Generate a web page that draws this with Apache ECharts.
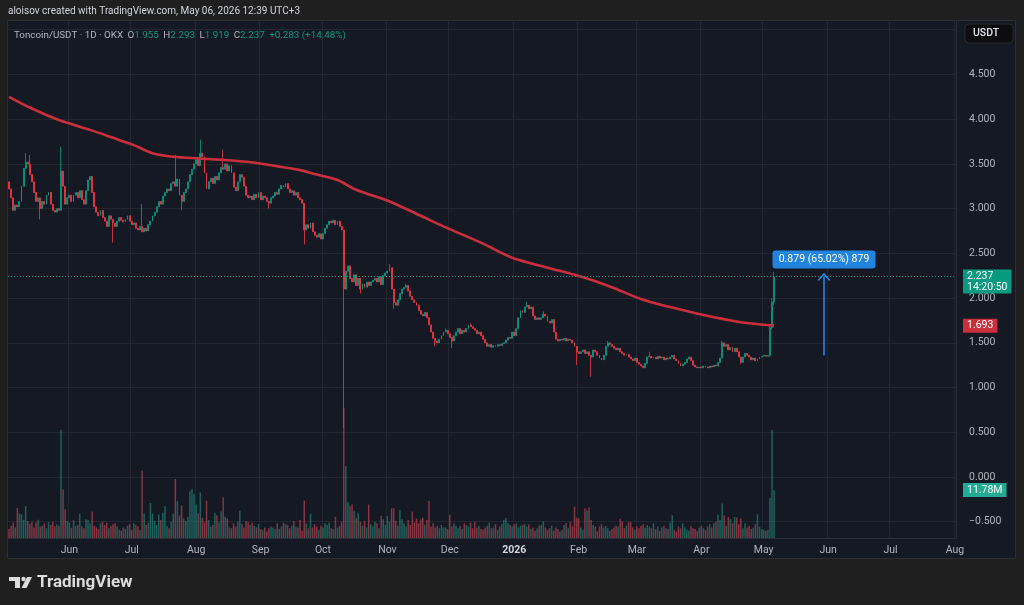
<!DOCTYPE html>
<html>
<head>
<meta charset="utf-8">
<title>Toncoin/USDT 1D</title>
<script src="https://cdn.jsdelivr.net/npm/echarts@6.0.0/dist/echarts.min.js"></script>
<style>
html, body { margin: 0; padding: 0; background: #1f1f1f; }
#chart { width: 1024px; height: 605px; }
</style>
</head>
<body>
<div id="chart"></div>
<script>
// daily closes, 2025-05-03 .. 2026-05-06
var closes = [
    3.22,3.12,2.98,3.04,3.02,3.08, 3.25,3.45,3.52,3.50, 3.38,3.30,3.18,3.08,
    3.12,3.00,3.08,3.05,3.15,3.18,3.05, 2.98,2.96,3.00,2.98, 3.42,3.25,3.05,
    3.12,3.15,3.08,3.15, 3.18,3.12,3.20,3.10,3.05, 3.20,3.32,3.36,3.18,3.02,
    2.96,2.92,2.98,2.90,2.86,2.80,2.92, 2.88,2.84,2.80,2.86,2.90,2.87,2.85,
    2.88,2.92,2.86,2.82,2.84, 2.78,2.76,2.80,2.74,2.78,2.75, 2.82,2.86,2.92,2.96,3.02,
    3.08,3.05,3.14,3.18,3.22, 3.20,3.28,3.30,3.25,3.33, 3.15,3.08,3.18,
    3.22,3.30,3.38,3.44,3.50, 3.55,3.48,3.62,3.58, 3.40,3.22, 3.30,3.34,3.28,3.36,3.32,
    3.40,3.46,3.44, 3.50,3.42,3.48,3.40, 3.24,3.20, 3.30,3.38,3.35, 3.25,3.15,3.12,
    3.14,3.10,3.16,3.12,3.18,3.10,3.14,3.12,3.08, 3.06,3.12,
    3.14,3.18,3.16,3.22,3.26,3.24,3.28, 3.22,3.18,3.20,3.15,3.18, 3.12,3.10,3.06,
    2.76, 2.82,2.78,2.84,2.74, 2.70,2.68,2.72,2.66,2.72, 2.78,2.82,2.86,2.84,2.87,2.82,2.86,
    2.80,2.76, 2.10, 2.30,2.36,2.22,2.18,2.26, 2.14,2.22,2.10,2.16,2.12,2.18,
    2.14,2.18,2.20,2.22,2.18,2.24,2.15,2.25,2.28,2.30,
    2.34,2.10,1.95, 1.92,1.98, 2.05,2.10,2.12,2.14,2.08, 2.02,1.98,1.95,1.92,
    1.86,1.82,1.80,1.84,1.78, 1.70,1.62,1.55, 1.52,1.50,1.54, 1.58,1.62,1.64,1.60,
    1.56,1.52,1.58, 1.62,1.66,1.60,1.64,1.62, 1.66,1.70,1.68,1.66, 1.64,1.60,1.62,1.58,
    1.54,1.50,1.46,1.48,1.45, 1.47,1.46,1.48,1.47,1.49, 1.50,1.53,1.56,1.55,
    1.62,1.58,1.66, 1.78,1.86,1.84,1.90, 1.92,1.88,1.90, 1.80,1.76,1.78,
    1.76,1.78,1.82,1.80, 1.74,1.72,1.76, 1.62,1.54, 1.52,1.54,1.53,1.55,1.52,1.54,1.53,
    1.50,1.46,1.40,1.38, 1.40,1.42,1.38,1.40,1.36, 1.34, 1.42,1.40, 1.36,1.33,1.31,1.36,
    1.46,1.50,1.48, 1.46,1.44,1.42,1.44, 1.40,1.38,1.36,1.37,1.34, 1.32,1.30,1.33,1.28,1.26,
    1.24,1.22,1.27, 1.34,1.35,1.33, 1.34,1.32,1.35,1.33,1.34,1.31,1.33,1.32,1.34,1.36,
    1.32,1.30, 1.27,1.24,1.26,1.28, 1.32,1.34,1.30, 1.25,1.23,
    1.22,1.23,1.22,1.24,1.23,1.22,1.24,1.23,1.25,1.24, 1.28,1.33, 1.50,
    1.46,1.48,1.42,1.45,1.40,1.44,1.40, 1.34,1.28, 1.34,1.38,1.36, 1.34,1.31,1.33,1.30,1.32,
    1.34,1.35,1.36, 1.35,1.36, 1.67,1.955,2.237
];
var firstOpen = 3.30;

// visible wicks: [index, high, low]
var wicks = [
    [8, 3.62, null], [10, 3.60, null], [15, null, 2.88], [25, 3.69, null], [50, null, 2.62],
    [64, 3.05, null], [80, 3.60, null], [83, null, 2.98], [92, 3.77, null], [103, 3.66, null],
    [125, null, 3.00], [142, null, 2.60], [161, null, 0.55], [169, null, 2.05], [183, 2.38, null],
    [185, null, 1.88], [191, 2.16, null], [205, null, 1.46], [210, 1.66, null], [213, null, 1.44],
    [222, 1.72, null], [249, 1.96, null], [257, 1.85, null], [273, null, 1.25], [280, null, 1.12],
    [288, 1.52, null], [308, 1.40, null], [343, 1.52, null], [352, null, 1.26],
    [366, 1.70, 1.34], [367, 2.00, 1.65], [368, 2.293, 1.919]
];

// volume, millions
var volumes = [
    2.2,3.0,3.8,2.6,7.4,6.0,5.8,4.5,7.8,4.2, 3.5,4.0,2.6,3.8,4.5,2.8,3.0,3.6,2.4,3.9,
    3.2,4.0,2.9,3.4,3.0,26.6,11.9,7.0,4.2,3.8, 2.5,4.4,3.0,3.2,6.0,2.8,2.4,4.6,4.4,3.6,
    6.5,3.0,2.6,2.2,3.6,4.0,3.2,3.8,2.4,3.0, 3.4,3.6,2.8,2.0,1.8,2.6,2.2,3.0,3.4,2.0,
    3.6,3.2,2.8,1.9,16.6,6.0,3.2,3.8,8.6,6.0, 4.2,3.2,5.8,4.4,6.2,7.8,3.0,2.4,4.0,6.0,
    14.5,9.0,5.5,8.0,4.8,4.2,5.2,11.5,12.0,10.8, 8.2,6.0,11.2,5.0,3.8,9.2,4.4,2.8,3.2,6.2,
    5.6,3.8,6.5,10.0,5.2,4.8,2.6,2.4,3.6,2.8, 4.0,6.7,3.4,2.6,4.2,3.9,3.2,3.8,3.0,2.6,
    3.4,2.2,2.0,2.6,1.6,2.4,2.8,2.6,2.2,3.6, 2.2,2.8,3.8,3.4,3.2,2.4,3.0,4.2,2.8,2.6,
    4.4,1.8,9.2,3.6,2.4,6.0,2.6,3.4,2.8,2.0, 3.0,2.6,3.6,3.2,3.8,2.4,2.2,5.2,2.6,3.0,
    4.0,32.0,17.6,8.8,7.8,8.2,6.7,5.0,6.2,4.0, 3.0,4.2,2.6,8.2,3.4,2.8,4.0,3.6,2.4,5.4,
    4.6,3.2,5.4,4.0,7.3,7.3,4.2,3.0,6.9,4.6, 3.6,2.8,4.4,3.2,6.5,3.8,4.8,3.6,4.6,5.0,
    3.2,4.4,9.1,2.8,3.6,2.6,3.0,2.4,3.2,2.6, 2.6,2.2,5.7,2.8,3.6,3.0,2.4,3.0,2.2,3.6,
    3.2,2.8,3.8,2.4,4.0,2.6,3.0,2.2,2.0,2.6, 3.0,3.8,2.4,2.6,3.4,2.0,2.8,3.4,4.4,5.0,
    3.6,3.2,2.8,3.4,3.6,2.6,3.0,3.2,3.4,2.8, 3.4,2.2,2.6,1.8,2.4,3.0,3.2,4.1,2.6,2.0,
    2.4,3.0,1.8,2.6,2.2,1.6,2.0,3.2,3.6,2.4, 4.0,2.8,7.7,5.0,4.8,2.6,2.0,7.3,6.8,7.5,
    4.4,3.2,2.8,1.6,2.8,3.4,2.6,3.0,2.4,1.8, 2.2,2.6,3.0,2.8,4.7,4.0,2.4,3.0,3.9,4.0,
    2.6,2.0,2.8,2.4,3.0,3.4,2.6,3.2,2.8,2.4, 3.6,2.2,2.8,1.8,2.6,3.0,2.4,2.2,3.8,5.6,
    2.0,1.6,2.8,2.4,3.6,2.6,2.0,1.8,3.0,2.4, 2.2,1.8,2.6,3.0,2.4,2.0,2.8,3.4,2.6,3.6,
    4.0,5.8,4.4,8.5,5.6,3.0,5.2,4.6,3.6,5.2, 5.0,3.4,4.8,2.4,3.6,2.6,3.0,2.2,2.6,3.4,
    5.8,2.8,2.2,2.0,1.8,2.0,9.8,26.5,11.78
];

// red moving average: [index, value]
var maPoints = [
    [0, 4.25], [10, 4.13], [24, 3.99], [39, 3.88], [49, 3.80], [60, 3.71], [69, 3.62],
    [79, 3.58], [92, 3.56], [111, 3.53], [119, 3.51], [140, 3.43], [148, 3.38], [158, 3.32],
    [167, 3.21], [183, 3.08], [198, 2.92], [212, 2.77], [227, 2.62], [242, 2.45], [259, 2.34],
    [275, 2.24], [289, 2.13], [305, 1.98], [318, 1.90], [334, 1.81], [352, 1.73], [368, 1.693]
];

var monthNames = ['Jan','Feb','Mar','Apr','May','Jun','Jul','Aug','Sep','Oct','Nov','Dec'];
var lastPrice = 2.237;
var lastMa = 1.693;
var lastVolume = 11.78;
var measureFrom = 1.358;
var measureDay = '2026-05-30';
var measureText = '0.879 (65.02%) 879';

var UP = '#089981', DOWN = '#f23645';
var UP_VOL = 'rgba(34,171,148,0.5)', DOWN_VOL = 'rgba(247,82,95,0.5)';
var MA_RED = '#cc2f3c';
var AXIS_TEXT = '#b2b5be';
var GRID_LINE = '#22262f';
var NO_LINE = 'rgba(0,0,0,0)';
var FONT = 'Roboto, "Noto Sans", sans-serif';

// categories: one per day, chart runs past the data to early August
var days = [];
var start = Date.UTC(2025, 4, 3);
for (var i = 0; i < 456; i++) {
    days.push(new Date(start + i * 86400000).toISOString().slice(0, 10));
}
var lastIndex = days.indexOf('2026-05-06');
var offset = lastIndex - (closes.length - 1);

var wickMap = {};
wicks.forEach(function (w) { wickMap[w[0]] = w; });

var candles = [], vols = [], ma = [];
for (var d = 0; d < days.length; d++) {
    candles.push('-');
    vols.push('-');
    ma.push('-');
}
for (var k = 0; k < closes.length; k++) {
    var o = k === 0 ? firstOpen : closes[k - 1];
    var c = closes[k];
    var hi = Math.max(o, c), lo = Math.min(o, c);
    var w = wickMap[k];
    if (w) {
        if (w[1] != null) hi = w[1];
        if (w[2] != null) lo = w[2];
    }
    candles[k + offset] = [o, c, lo, hi];
    vols[k + offset] = {
        value: volumes[k],
        itemStyle: { color: c >= o ? UP_VOL : DOWN_VOL }
    };
}
maPoints.forEach(function (p) { ma[p[0] + offset] = p[1]; });

function isMonthStart(idx, val) {
    return val.slice(8) === '01';
}

function axisBadge(text, bg) {
    return {
        position: 'end', distance: 7,
        formatter: text,
        color: '#ffffff', backgroundColor: bg,
        padding: [2, 4, 1, 4], fontSize: 10.5, fontFamily: FONT
    };
}

var chart = echarts.init(document.getElementById('chart'), null, { renderer: 'canvas' });

var option = {
    animation: false,
    backgroundColor: '#151924',
    textStyle: { fontFamily: FONT },
    title: [
        {
            text: 'aloisov created with TradingView.com, May 06, 2026 12:39 UTC+3',
            left: 8, top: 6, padding: 0,
            textStyle: { color: '#d1d4dc', fontSize: 10, fontWeight: 'normal', fontFamily: FONT }
        },
        {
            text: '{a|Toncoin/USDT · 1D · OKX} {a|O}{b|1.955} {a|H}{b|2.293} {a|L}{b|1.919} {a|C}{b|2.237} {b|+0.283 (+14.48%)}',
            left: 14, top: 27, padding: 0,
            textStyle: {
                fontWeight: 'normal',
                rich: {
                    a: { color: '#b2b5be', fontSize: 9.8, fontWeight: 'normal', fontFamily: FONT },
                    b: { color: UP, fontSize: 9.8, fontWeight: 'normal', fontFamily: FONT }
                }
            }
        }
    ],
    grid: [
        { left: 8, right: 68, top: 29.7, bottom: 83.3, show: false },
        { left: 8, right: 68, top: 21, bottom: 67, show: false }
    ],
    xAxis: [
        {
            type: 'category', gridIndex: 0, data: days, show: false
        },
        {
            type: 'category', gridIndex: 1, data: days,
            axisLine: { lineStyle: { color: '#2a2e39' } },
            axisTick: { show: false },
            axisLabel: {
                interval: isMonthStart,
                color: AXIS_TEXT, fontSize: 10.5, margin: 7, fontFamily: FONT,
                formatter: function (val) {
                    var m = +val.slice(5, 7) - 1;
                    if (m === 0) return '{y|' + val.slice(0, 4) + '}';
                    return monthNames[m];
                },
                rich: { y: { color: '#d1d4dc', fontWeight: 'bold', fontSize: 10.5, fontFamily: FONT } }
            },
            splitLine: { show: true, interval: isMonthStart, lineStyle: { color: GRID_LINE } }
        }
    ],
    yAxis: [
        {
            type: 'value', gridIndex: 0, position: 'right',
            min: -0.5, max: 5.0, interval: 0.5,
            axisLine: { show: false }, axisTick: { show: false },
            axisLabel: {
                color: AXIS_TEXT, fontSize: 10.5, margin: 13, fontFamily: FONT,
                showMaxLabel: false,
                formatter: function (v) { return v.toFixed(3).replace('-', '\u2212'); }
            },
            splitLine: { lineStyle: { color: GRID_LINE } }
        },
        {
            type: 'value', gridIndex: 1, position: 'right',
            min: 0, max: 127,
            axisLine: { show: true, lineStyle: { color: '#2a2e39' } },
            axisTick: { show: false }, axisLabel: { show: false },
            splitLine: { show: false }
        }
    ],
    series: [
        {
            name: 'Volume', type: 'bar', xAxisIndex: 1, yAxisIndex: 1,
            data: vols, barWidth: 1.5, z: 1,
            markLine: {
                silent: true, symbol: 'none',
                lineStyle: { color: NO_LINE, width: 0 },
                label: axisBadge(lastVolume.toFixed(2) + 'M', '#22ab94'),
                data: [{ yAxis: lastVolume }]
            }
        },
        {
            name: 'Toncoin/USDT', type: 'candlestick', xAxisIndex: 0, yAxisIndex: 0,
            data: candles, barWidth: 1.4, z: 3,
            itemStyle: {
                color: UP, color0: DOWN, borderColor: UP, borderColor0: DOWN, borderWidth: 0.8
            },
            markLine: {
                silent: true, symbol: 'none',
                lineStyle: { color: UP, type: [1, 2], width: 1 },
                label: {
                    position: 'end', distance: 7, offset: [0, 5],
                    formatter: lastPrice.toFixed(3) + '\n14:20:50',
                    color: '#ffffff', backgroundColor: UP,
                    padding: [1, 4, 1, 4], lineHeight: 11, fontSize: 10.5, fontFamily: FONT
                },
                data: [{ yAxis: lastPrice }]
            }
        },
        {
            name: 'MA', type: 'line', xAxisIndex: 0, yAxisIndex: 0,
            data: ma, connectNulls: true, smooth: 0.3, showSymbol: false, symbol: 'none',
            lineStyle: { color: MA_RED, width: 2.6 }, z: 4,
            markLine: {
                silent: true, symbol: 'none',
                lineStyle: { color: NO_LINE, width: 0 },
                label: axisBadge(lastMa.toFixed(3), MA_RED),
                data: [{ yAxis: lastMa }]
            }
        },
        {
            // measuring tool: arrow + label box
            name: 'Measure', type: 'line', xAxisIndex: 0, yAxisIndex: 0,
            data: [], z: 6,
            markLine: {
                silent: true,
                symbol: ['none', 'path://M0,10 L6,0 L12,10 L10.6,10.8 L6,3 L1.4,10.8 Z'],
                symbolSize: [13, 8],
                lineStyle: { color: '#2c8ae8', width: 1.5, type: 'solid' },
                label: { show: false },
                data: [[{ coord: [measureDay, measureFrom] }, { coord: [measureDay, lastPrice] }]]
            },
            markPoint: {
                silent: true,
                symbol: 'path://M3,0 L100,0 Q103,0 103,3 L103,15 Q103,18 100,18 L3,18 Q0,18 0,15 L0,3 Q0,0 3,0 Z',
                symbolSize: [103, 18], symbolKeepAspect: false,
                itemStyle: { color: '#2185e0' },
                label: { show: true, formatter: measureText, color: '#ffffff', fontSize: 10.5, fontFamily: FONT },
                data: [{ coord: [measureDay, 2.43] }]
            }
        }
    ],
    graphic: [
        // frame around the chart panel
        { type: 'rect', shape: { x: 0, y: 0, width: 1024, height: 20 }, style: { fill: '#1f1f1f' }, silent: true },
        { type: 'rect', shape: { x: 0, y: 559, width: 1024, height: 46 }, style: { fill: '#1f1f1f' }, silent: true },
        { type: 'rect', shape: { x: 0, y: 0, width: 7, height: 605 }, style: { fill: '#1f1f1f' }, silent: true },
        { type: 'rect', shape: { x: 1016, y: 0, width: 8, height: 605 }, style: { fill: '#1f1f1f' }, silent: true },
        { type: 'rect', shape: { x: 7.5, y: 20.5, width: 1008, height: 538 }, style: { fill: 'none', stroke: '#2e2e33', lineWidth: 1 }, silent: true },
        // currency badge
        { type: 'rect', shape: { x: 965, y: 24, width: 48, height: 19, r: 4 }, style: { fill: '#0d0d0f', stroke: '#2a2a2e' }, silent: true },
        { type: 'text', x: 973, y: 33.5, style: { text: 'USDT', fill: '#e0e3eb', font: '500 10.5px ' + FONT, verticalAlign: 'middle' }, silent: true },
        // TradingView logo
        { type: 'rect', shape: { x: 9, y: 577, width: 11, height: 4 }, style: { fill: '#dcdcdc' }, silent: true },
        { type: 'rect', shape: { x: 15, y: 577, width: 5, height: 11 }, style: { fill: '#dcdcdc' }, silent: true },
        { type: 'circle', shape: { cx: 23.5, cy: 579, r: 2.2 }, style: { fill: '#dcdcdc' }, silent: true },
        { type: 'polygon', shape: { points: [[27, 577], [32, 577], [26.5, 588], [21.5, 588]] }, style: { fill: '#dcdcdc' }, silent: true },
        { type: 'text', x: 37, y: 583, style: { text: 'TradingView', fill: '#dcdcdc', font: 'bold 17px ' + FONT, verticalAlign: 'middle' }, silent: true }
    ]
};

chart.setOption(option);
</script>
</body>
</html>
